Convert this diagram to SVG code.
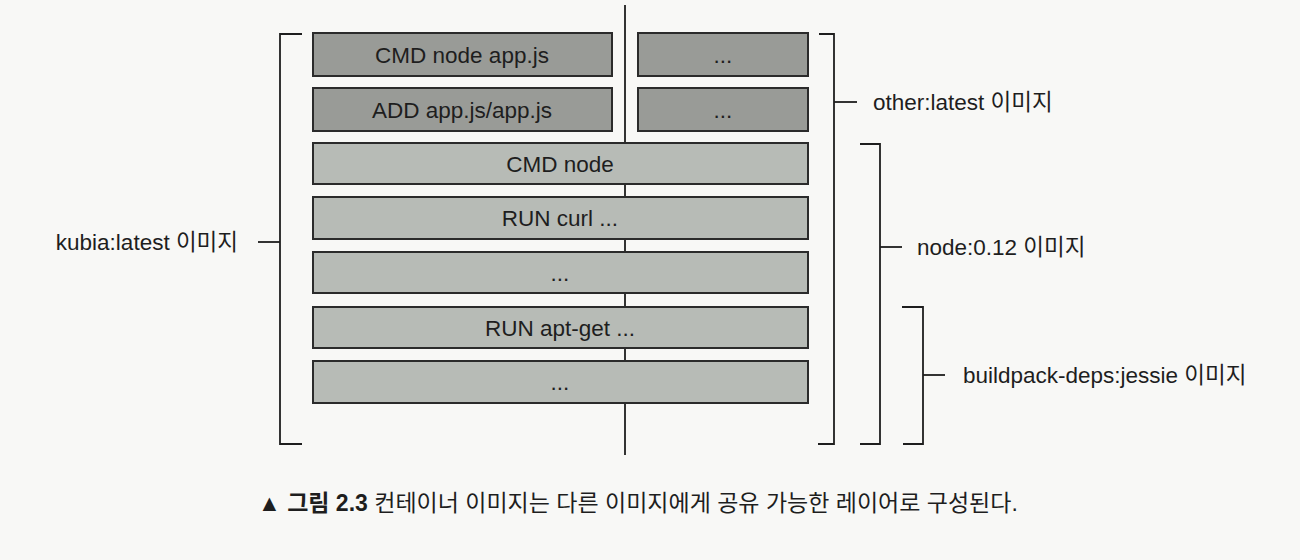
<svg xmlns="http://www.w3.org/2000/svg" width="1300" height="560" viewBox="0 0 1300 560">
  <style>
    .dark { fill: #999b97; stroke: #2b2b2b; stroke-width: 2; }
    .light { fill: #b7bbb6; stroke: #2b2b2b; stroke-width: 2; }
    .box-text { font-family: "Liberation Sans", Arial, sans-serif; font-size: 22.5px; fill: #1e1e1e; text-anchor: middle; }
    .line { fill: none; stroke: #1e1e1e; stroke-width: 1.8; }
    .label { font-family: "Liberation Sans", "Noto Sans CJK KR", sans-serif; font-size: 22.5px; fill: #1e1e1e; }
    .caption { font-family: "Liberation Sans", "Noto Sans CJK KR", sans-serif; font-size: 23px; fill: #1e1e1e; }
  </style>
  <rect x="0" y="0" width="1300" height="560" fill="#f8f8f6"/>

  <g id="connectors">
    <path class="line" d="M625,5 V455"/>
    <path class="line" d="M302,34 H280 V444 H302"/>
    <path class="line" d="M258,242 H280"/>
    <path class="line" d="M819,34 H834 V444 H818"/>
    <path class="line" d="M834,102 H857"/>
    <path class="line" d="M860,144 H880 V444 H860"/>
    <path class="line" d="M880,247 H902"/>
    <path class="line" d="M902,307 H923 V444 H903"/>
    <path class="line" d="M923,375 H945"/>
  </g>

  <g id="cmd-node-appjs">
    <rect class="dark" x="313" y="33" width="299" height="43"/>
    <text class="box-text" x="462" y="63">CMD node app.js</text>
  </g>
  <g id="other-layer-1">
    <rect class="dark" x="638" y="33" width="170" height="43"/>
    <text class="box-text" x="723" y="63">...</text>
  </g>
  <g id="add-appjs">
    <rect class="dark" x="313" y="88" width="299" height="43"/>
    <text class="box-text" x="462" y="118">ADD app.js/app.js</text>
  </g>
  <g id="other-layer-2">
    <rect class="dark" x="638" y="88" width="170" height="43"/>
    <text class="box-text" x="723" y="118">...</text>
  </g>
  <g id="cmd-node">
    <rect class="light" x="313" y="143" width="495" height="41"/>
    <text class="box-text" x="560" y="172">CMD node</text>
  </g>
  <g id="run-curl">
    <rect class="light" x="313" y="197" width="495" height="42"/>
    <text class="box-text" x="560" y="226">RUN curl ...</text>
  </g>
  <g id="node-layer">
    <rect class="light" x="313" y="252" width="495" height="41"/>
    <text class="box-text" x="560" y="281">...</text>
  </g>
  <g id="run-apt-get">
    <rect class="light" x="313" y="307" width="495" height="41"/>
    <text class="box-text" x="560" y="336">RUN apt-get ...</text>
  </g>
  <g id="base-layer">
    <rect class="light" x="313" y="361" width="495" height="42"/>
    <text class="box-text" x="560" y="390">...</text>
  </g>

  <g id="label-kubia">
    <text class="label" x="238" y="250" text-anchor="end">kubia:latest 이미지</text>
  </g>
  <g id="label-other">
    <text class="label" x="873" y="110">other:latest 이미지</text>
  </g>
  <g id="label-node">
    <text class="label" x="917" y="255">node:0.12 이미지</text>
  </g>
  <g id="label-buildpack">
    <text class="label" x="963" y="383">buildpack-deps:jessie 이미지</text>
  </g>

  <g id="caption">
    <text class="caption" x="258" y="511"><tspan>▲ </tspan><tspan font-weight="bold">그림 2.3</tspan><tspan> 컨테이너 이미지는 다른 이미지에게 공유 가능한 레이어로 구성된다.</tspan></text>
  </g>
</svg>
